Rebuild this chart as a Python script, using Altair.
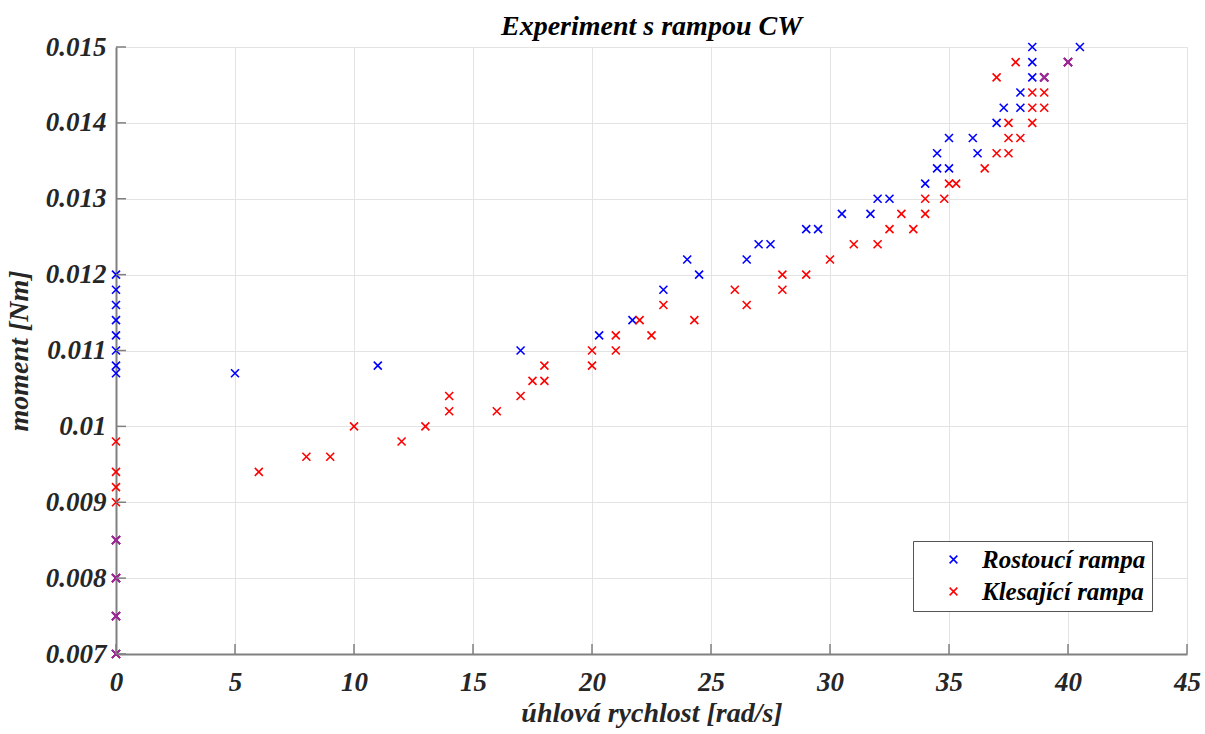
import altair as alt
import pandas as pd

# Rostoucí rampa (blue)
rost_x = [0, 0, 0, 0, 0, 0, 0, 0, 0, 0, 0, 0,
          5, 11, 17, 20.3, 21.7, 23, 24, 24.5, 26.5, 27, 27.5, 29, 29.5,
          30.5, 31.7, 32, 32.5, 34, 34.5, 35, 34.5, 35, 36, 36.2, 37, 37.3,
          38, 38, 38.5, 38.5, 38.5, 39, 40, 40.5]
rost_y = [0.0120, 0.0118, 0.0116, 0.0114, 0.0112, 0.0110, 0.0108, 0.0107,
          0.0085, 0.0080, 0.0075, 0.0070,
          0.0107, 0.0108, 0.0110, 0.0112, 0.0114, 0.0118, 0.0122, 0.0120,
          0.0122, 0.0124, 0.0124, 0.0126, 0.0126,
          0.0128, 0.0128, 0.0130, 0.0130, 0.0132, 0.0134, 0.0134, 0.0136,
          0.0138, 0.0138, 0.0136, 0.0140, 0.0142,
          0.0142, 0.0144, 0.0146, 0.0148, 0.0150, 0.0146, 0.0148, 0.0150]

# Klesající rampa (red)
kles_x = [0, 0, 0, 0, 0, 0, 0, 0,
          6, 8, 9, 10, 12, 13, 14, 14, 16, 17, 17.5, 18, 18, 20, 20, 21, 21,
          22, 22.5, 23, 24.3, 26, 26.5, 28, 28, 29, 30, 31, 32, 32.5, 33,
          33.5, 34, 34, 34.8, 35, 35.3, 36.5, 37, 37.5, 37.5, 38, 37.5, 38.5,
          38.5, 39, 38.5, 39, 37, 39, 37.8, 40]
kles_y = [0.0098, 0.0094, 0.0092, 0.0090, 0.0085, 0.0080, 0.0075, 0.0070,
          0.0094, 0.0096, 0.0096, 0.0100, 0.0098, 0.0100, 0.0102, 0.0104,
          0.0102, 0.0104, 0.0106, 0.0106, 0.0108, 0.0108, 0.0110, 0.0110,
          0.0112, 0.0114, 0.0112, 0.0116, 0.0114, 0.0118, 0.0116, 0.0118,
          0.0120, 0.0120, 0.0122, 0.0124, 0.0124, 0.0126, 0.0128, 0.0126,
          0.0128, 0.0130, 0.0130, 0.0132, 0.0132, 0.0134, 0.0136, 0.0136,
          0.0138, 0.0138, 0.0140, 0.0140, 0.0142, 0.0142, 0.0144, 0.0144,
          0.0146, 0.0146, 0.0148, 0.0148]

x_ticks = [0, 5, 10, 15, 20, 25, 30, 35, 40, 45]
y_ticks = [0.007, 0.008, 0.009, 0.010, 0.011, 0.012, 0.013, 0.014, 0.015]

series_names = ["Rostoucí rampa", "Klesající rampa"]
series_colors = ["#0000FF", "#FF0000"]

df = pd.DataFrame({
    "x": rost_x + kles_x,
    "y": rost_y + kles_y,
    "s": [series_names[0]] * len(rost_x) + [series_names[1]] * len(kles_x),
    "order": list(range(len(rost_x) + len(kles_x))),
})
xt = pd.DataFrame({"t": x_ticks})
yt = pd.DataFrame({"t": y_ticks})

XSHAPE = "M-1,-1L1,1M1,-1L-1,1"
FONT = "Liberation Serif"
H = 607

xscale = alt.Scale(domain=[0, 45], nice=False, zero=False)
yscale = alt.Scale(domain=[0.007, 0.015], nice=False, zero=False)

xenc = alt.X("x:Q", scale=xscale,
             axis=alt.Axis(values=x_ticks, title="úhlová rychlost [rad/s]", format="~g"))
yenc = alt.Y("y:Q", scale=yscale,
             axis=alt.Axis(values=y_ticks, title="moment [Nm]", format="~g"))

points = alt.Chart(df).mark_point(
    shape=XSHAPE, filled=False, size=64, strokeWidth=1.6, opacity=1
).encode(
    x=xenc, y=yenc,
    color=alt.Color("s:N", scale=alt.Scale(domain=series_names, range=series_colors),
                    legend=alt.Legend(title=None, orient="none", legendX=797, legendY=494)),
    order=alt.Order("order:Q"),
)

overlap = alt.Chart(df).transform_joinaggregate(
    n="count()", groupby=["x", "y"]
).transform_filter("datum.n > 1").mark_point(
    shape=XSHAPE, filled=False, size=64, strokeWidth=1.6, color="#9A2A9A", opacity=1
).encode(x="x:Q", y="y:Q")

xticks = alt.Chart(xt).mark_rule(color="#808080", strokeWidth=1.5).encode(
    x=alt.X("t:Q", scale=xscale), y=alt.value(H), y2=alt.value(H - 10)
)
yticks = alt.Chart(yt).mark_rule(color="#808080", strokeWidth=1.5).encode(
    y=alt.Y("t:Q", scale=yscale), x=alt.value(0), x2=alt.value(10)
)

chart = alt.layer(points, overlap, xticks, yticks).properties(
    width=1071, height=H,
    title=alt.TitleParams("Experiment s rampou CW", fontSize=28, font=FONT,
                          fontStyle="italic", fontWeight="bold", offset=-8, color="#000000"),
    padding={"left": 116, "top": 47, "right": 18, "bottom": 80},
    autosize="none",
).configure_view(stroke=None).configure_axis(
    labelFont=FONT, labelFontSize=27, labelFontStyle="italic", labelFontWeight="bold",
    labelColor="#262626", labelFlush=False,
    titleFont=FONT, titleFontSize=28, titleFontStyle="italic", titleFontWeight="bold",
    titleColor="#262626",
    domainColor="#808080", domainWidth=2, ticks=False,
    gridColor="#E3E3E3", gridWidth=1,
).configure_axisX(labelPadding=15, titlePadding=4).configure_axisY(
    labelPadding=10, titlePadding=12
).configure_legend(
    symbolType=XSHAPE, symbolSize=60, symbolStrokeWidth=1.5,
    labelFont=FONT, labelFontSize=25, labelFontStyle="italic", labelFontWeight="bold",
    labelColor="#000000", labelLimit=400,
    fillColor="#FFFFFF", strokeColor="#555555", padding=6, rowPadding=6,
    symbolOffset=22, labelOffset=16, cornerRadius=0,
)

chart.save("out.html", embed_options={"renderer": "svg", "actions": False})
